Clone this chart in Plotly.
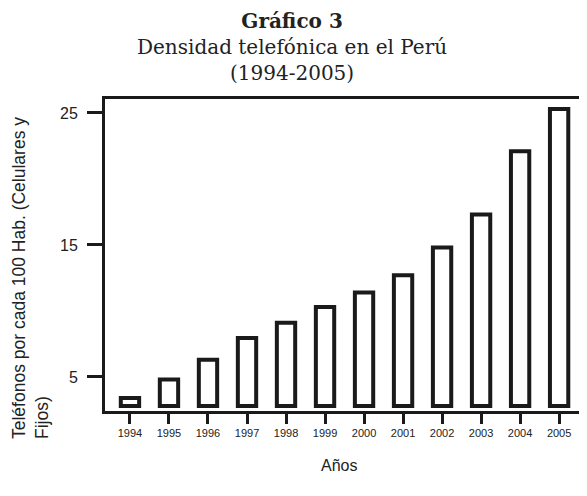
import plotly.graph_objects as go

# Densidad telefonica en el Peru, 1994-2005 (telefonos por cada 100 hab.)
years = ["1994", "1995", "1996", "1997", "1998", "1999",
         "2000", "2001", "2002", "2003", "2004", "2005"]
density = [3.4, 4.8, 6.3, 7.95, 9.1, 10.3,
           11.4, 12.7, 14.8, 17.3, 22.1, 25.3]
y_ticks = [5, 15, 25]

# bars in the original start a bit above the axis, not at zero
BAR_BASE = 2.8

INK = "#1a1a1a"
TXT = "#222222"
SANS = "Liberation Sans"
SERIF = "DejaVu Serif"

# plot area in pixels (587 x 496 page)
W, H = 587, 496
L, T, B = 97, 91, 403
PW, PH = W - L, B - T


def px_x(x):
    return (x - L) / PW


def px_y(y):
    return (B - y) / PH


fig = go.Figure()
fig.add_bar(
    x=years,
    y=[v - BAR_BASE for v in density],
    base=BAR_BASE,
    width=0.47,
    marker=dict(color="white", line=dict(color=INK, width=4)),
    hovertext=[str(v) for v in density],
)

fig.update_layout(
    width=W,
    height=H,
    margin=dict(l=L, r=0, t=T, b=H - B),
    paper_bgcolor="white",
    plot_bgcolor="white",
    showlegend=False,
)

fig.update_xaxes(
    type="category",
    range=[-0.64, 11.92],
    showline=True,
    linecolor=INK,
    linewidth=3,
    mirror=True,
    ticks="outside",
    ticklen=10,
    tickwidth=3,
    tickcolor=INK,
    tickfont=dict(family=SANS, size=11, color=TXT),
    showgrid=False,
    zeroline=False,
)

fig.update_yaxes(
    range=[2.42, 26.06],
    tickvals=y_ticks,
    ticktext=[str(t) for t in y_ticks],
    showline=True,
    linecolor=INK,
    linewidth=3,
    mirror=False,
    ticks="outside",
    ticklen=15,
    tickwidth=3,
    tickcolor=INK,
    ticklabelstandoff=6,
    tickfont=dict(family=SANS, size=16, color=TXT),
    showgrid=False,
    zeroline=False,
)

# title, three centred lines
fig.add_annotation(
    text="<b>Gráfico 3</b><br>Densidad telefónica en el Perú<br>(1994-2005)",
    xref="paper", yref="paper",
    x=px_x(284), y=px_y(0),
    xanchor="center", yanchor="top",
    borderpad=0,
    showarrow=False,
    font=dict(family=SERIF, size=20, color=TXT),
)

# y axis title: two lines, left aligned (rotated)
fig.add_annotation(
    text="Teléfonos por cada 100 Hab. (Celulares y<br>Fijos)",
    textangle=-90,
    align="left",
    xref="paper", yref="paper",
    x=px_x(22), y=px_y(270),
    xanchor="center", yanchor="middle",
    borderpad=0,
    showarrow=False,
    font=dict(family=SANS, size=17.5, color=TXT),
)

# x axis title
fig.add_annotation(
    text="Años",
    xref="paper", yref="paper",
    x=px_x(331), y=px_y(457),
    xanchor="center", yanchor="middle",
    showarrow=False,
    font=dict(family=SANS, size=16, color=TXT),
)

fig.write_html("out.html")
